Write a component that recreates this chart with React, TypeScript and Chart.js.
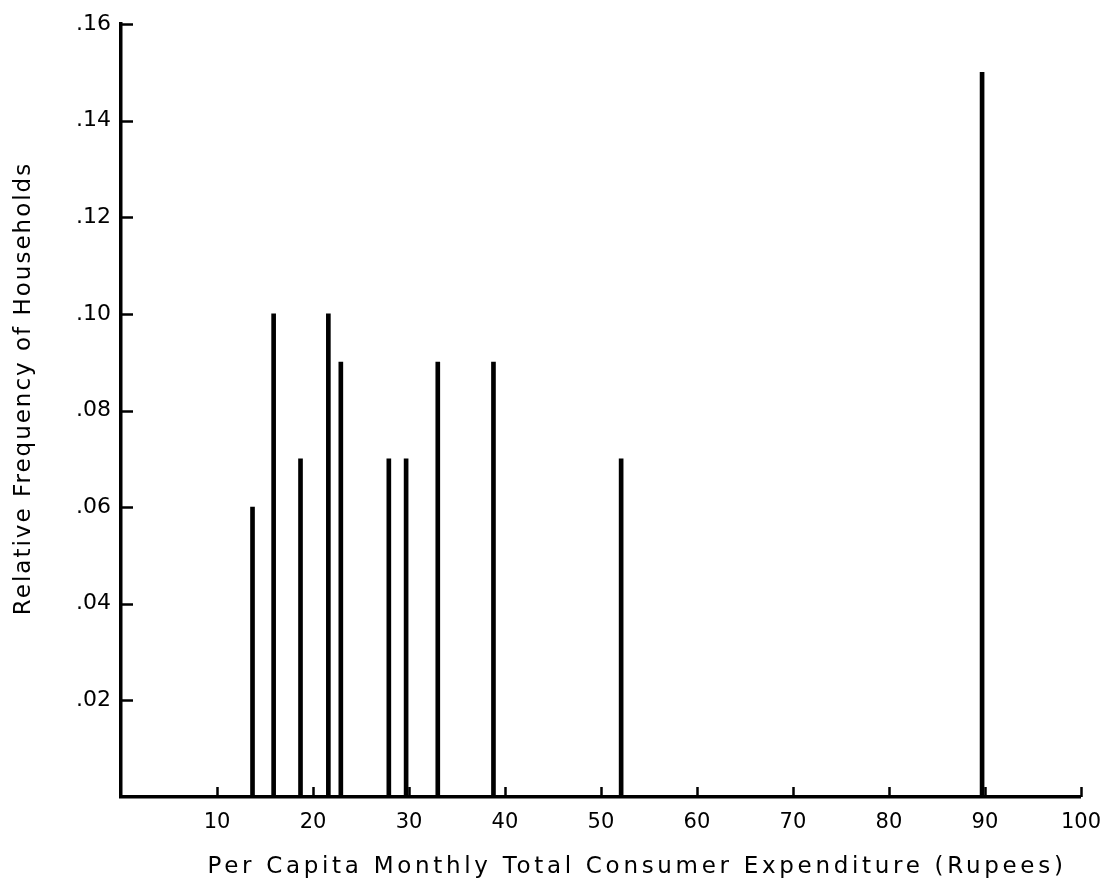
import React, { useEffect, useRef } from 'react';
import { Chart, registerables } from 'chart.js';

Chart.register(...registerables);

// Per capita monthly total consumer expenditure (Rupees)
const expenditure = [13.7, 15.9, 18.7, 21.6, 22.9, 27.9, 29.7, 33.0, 38.8, 52.1, 89.7];
// Relative frequency of households
const frequency = [0.06, 0.10, 0.07, 0.10, 0.09, 0.07, 0.07, 0.09, 0.09, 0.07, 0.15];

const xTicks = [10, 20, 30, 40, 50, 60, 70, 80, 90, 100];
const yTicks = [0.02, 0.04, 0.06, 0.08, 0.10, 0.12, 0.14, 0.16];

const xTitle = 'Per Capita Monthly Total Consumer Expenditure (Rupees)';
const yTitle = 'Relative Frequency of Households';

const FONT = '"DejaVu Sans", sans-serif';

const inwardTicks = {
  id: 'inwardTicks',
  afterLayout(chart: any) {
    const { x, y } = chart.scales;
    if (!x.__wrapped) {
      const orig = x.drawTitle;
      x.drawTitle = function () {
        const ctx = this.ctx;
        ctx.save();
        ctx.letterSpacing = '3.7px';
        ctx.translate(36, 0);
        orig.call(this);
        ctx.restore();
      };
      x.__wrapped = true;
    }
    if (!y.__wrapped) {
      const orig = y.drawTitle;
      y.drawTitle = function () {
        const ctx = this.ctx;
        ctx.save();
        ctx.letterSpacing = '2px';
        ctx.translate(0, -22);
        orig.call(this);
        ctx.restore();
      };
      y.__wrapped = true;
    }
  },
  afterDraw(chart: any) {
    const { ctx, scales } = chart;
    const x = scales.x;
    const y = scales.y;
    ctx.save();
    ctx.strokeStyle = '#000';
    ctx.lineWidth = 2.5;
    ctx.beginPath();
    yTicks.forEach((v) => {
      const py = Math.round(y.getPixelForValue(v)) + 0.5;
      ctx.moveTo(x.left, py);
      ctx.lineTo(x.left + 12, py);
    });
    xTicks.forEach((v) => {
      const px = Math.round(x.getPixelForValue(v)) + 0.5;
      ctx.moveTo(px, y.bottom);
      ctx.lineTo(px, y.bottom - 10);
    });
    ctx.stroke();
    ctx.restore();
  },
};

export default function App() {
  const ref = useRef<HTMLCanvasElement | null>(null);

  useEffect(() => {
    document.body.style.margin = '0';
    const canvas = ref.current;
    if (!canvas) return;
    const chart = new Chart(canvas, {
      type: 'bar',
      data: {
        datasets: [
          {
            data: expenditure.map((e, i) => ({ x: e, y: frequency[i] })),
            backgroundColor: '#000',
            borderWidth: 0,
            barThickness: 4,
          },
        ],
      },
      options: {
        responsive: false,
        animation: false,
        devicePixelRatio: 1,
        layout: { padding: { left: 0, right: 33, top: 24, bottom: 0 } },
        plugins: {
          legend: { display: false },
          tooltip: { enabled: false },
        },
        scales: {
          x: {
            type: 'linear',
            min: 0,
            max: 100,
            offset: false,
            grid: { display: false, drawTicks: false },
            border: { display: true, color: '#000', width: 3.5 },
            ticks: {
              stepSize: 10,
              color: '#000',
              padding: 13,
              maxRotation: 0,
              autoSkip: false,
              font: { family: FONT, size: 21 },
              callback: (v: any) => (v === 0 ? '' : String(v)),
            },
            title: {
              display: true,
              text: xTitle,
              color: '#000',
              font: { family: FONT, size: 23 },
              padding: { top: 0, bottom: 5 },
            },
            afterFit: (s: any) => {
              s.height = 89;
            },
          },
          y: {
            type: 'linear',
            min: 0,
            max: 0.16,
            grid: { display: false, drawTicks: false },
            border: { display: true, color: '#000', width: 3.5 },
            ticks: {
              stepSize: 0.02,
              color: '#000',
              padding: 10,
              autoSkip: false,
              font: { family: FONT, size: 22 },
              callback: (v: any) => (v === 0 ? '' : Number(v).toFixed(2).replace(/^0/, '')),
            },
            title: {
              display: true,
              text: yTitle,
              color: '#000',
              font: { family: FONT, size: 23 },
              padding: { top: 10, bottom: 0 },
            },
            afterFit: (s: any) => {
              s.width = 121;
            },
          },
        },
      },
      plugins: [inwardTicks],
    });
    return () => chart.destroy();
  }, []);

  return (
    <div style={{ position: 'absolute', left: 0, top: 0, width: 1114, height: 886, background: '#fff' }}>
      <canvas ref={ref} width={1114} height={886} />
    </div>
  );
}
